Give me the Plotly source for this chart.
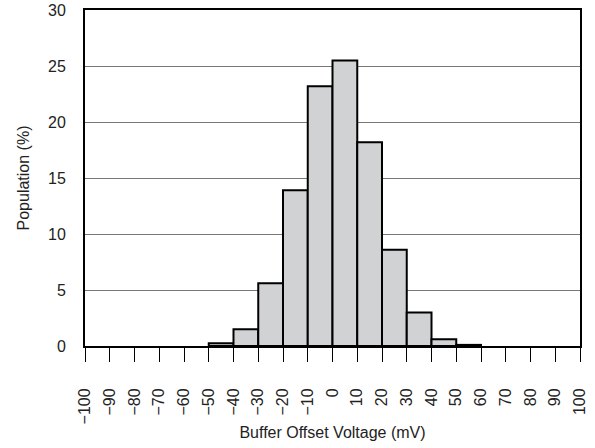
import plotly.graph_objects as go

# Histogram bins (mV, left edges) and population share (%)
bin_left = [-50, -40, -30, -20, -10, 0, 10, 20, 30, 40, 50]
population = [0.25, 1.5, 5.6, 13.9, 23.2, 25.5, 18.2, 8.6, 3.0, 0.6, 0.1]
bin_width = 10

x_ticks = list(range(-100, 101, 10))
x_labels = [str(v).replace("-", "\u2212") for v in x_ticks]
y_ticks = [0, 5, 10, 15, 20, 25, 30]

font = dict(family="Liberation Sans, Arial, sans-serif", size=16, color="#222")

fig = go.Figure(
    go.Bar(
        x=[b + bin_width / 2 for b in bin_left],
        y=population,
        width=bin_width,
        marker=dict(color="#d1d2d4", line=dict(color="black", width=2)),
    )
)

fig.update_layout(
    width=595,
    height=448,
    margin=dict(l=85, r=15, t=10, b=102),
    paper_bgcolor="white",
    plot_bgcolor="white",
    font=font,
    showlegend=False,
)

fig.update_xaxes(
    range=[-100, 100],
    tickvals=x_ticks,
    ticktext=x_labels,
    tickangle=-90,
    ticks="outside",
    ticklen=14,
    tickwidth=1,
    tickcolor="black",
    ticklabelstandoff=20,
    showgrid=False,
    showline=True,
    linecolor="black",
    linewidth=2,
    mirror=True,
    zeroline=False,
    automargin=False,
    title=dict(text="Buffer Offset Voltage (mV)", font=font, standoff=3),
)

fig.update_yaxes(
    range=[0, 30],
    tickvals=y_ticks,
    ticks="",
    ticklabelstandoff=14,
    showgrid=True,
    gridcolor="#777",
    gridwidth=1,
    showline=True,
    linecolor="black",
    linewidth=2,
    mirror=True,
    zeroline=False,
    automargin=False,
    title=dict(text="Population (%)", font=font, standoff=14),
)

fig.write_html("out.html")
